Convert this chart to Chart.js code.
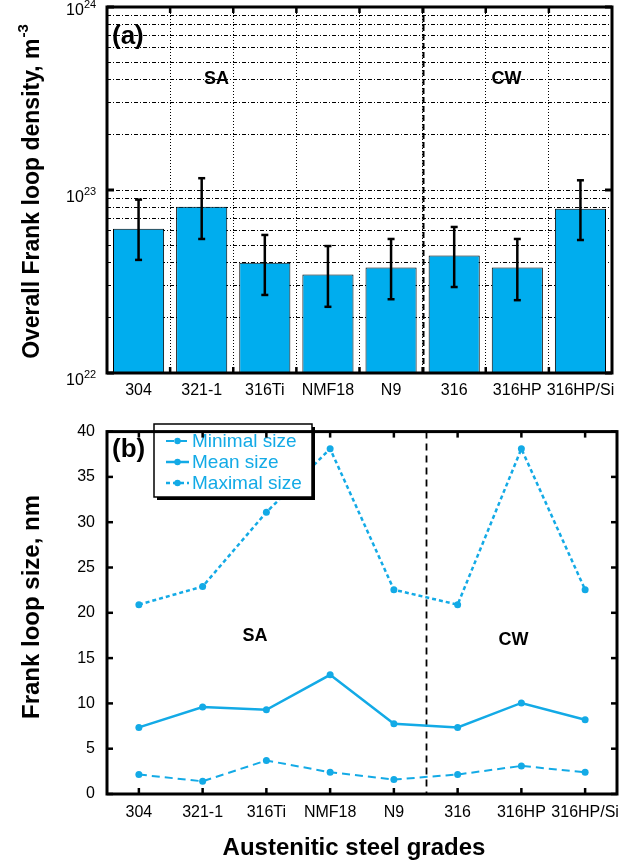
<!DOCTYPE html>
<html>
<head>
<meta charset="utf-8">
<script src="https://cdn.jsdelivr.net/npm/chart.js@4.4.1/dist/chart.umd.min.js"></script>
<style>
  html, body { margin: 0; padding: 0; background: #fff; }
  #wrap { position: relative; width: 630px; height: 860px; }
  canvas { position: absolute; left: 0; }
  #densityChart { top: 0; }
  #sizeChart { top: 410px; }
</style>
</head>
<body>
<div id="wrap">
  <canvas id="densityChart" width="630" height="410"></canvas>
  <canvas id="sizeChart" width="630" height="450"></canvas>
</div>
<script>
// Steel grades (SA: solution annealed, CW: cold worked)
const grades = ['304', '321-1', '316Ti', 'NMF18', 'N9', '316', '316HP', '316HP/Si'];

// (a) Frank loop number density, m^-3, with error range
const densityValues = [6.15e22, 8.1e22, 4.0e22, 3.45e22, 3.77e22, 4.38e22, 3.77e22, 7.9e22];
const densityLow    = [4.15e22, 5.4e22, 2.67e22, 2.3e22, 2.53e22, 2.95e22, 2.5e22, 5.33e22];
const densityHigh   = [8.86e22, 1.16e23, 5.68e22, 4.94e22, 5.4e22, 6.28e22, 5.4e22, 1.13e23];

// log axis: gridline values and labelled decades
const densityGridValues = [1e22, 2e22, 3e22, 4e22, 5e22, 6e22, 7e22, 8e22, 9e22,
                           1e23, 2e23, 3e23, 4e23, 5e23, 6e23, 7e23, 8e23, 9e23, 1e24];
const densityDecades = [1e22, 1e23, 1e24];
const densityExponents = ['22', '23', '24'];

// (b) Frank loop sizes, nm
const minimalSize = [2.15, 1.4, 3.7, 2.4, 1.6, 2.15, 3.1, 2.4];
const meanSize    = [7.35, 9.6, 9.3, 13.15, 7.75, 7.35, 10.05, 8.2];
const maximalSize = [20.9, 22.9, 31.1, 38.1, 22.55, 20.9, 38.1, 22.55];
const sizeTicks = [0, 5, 10, 15, 20, 25, 30, 35, 40];

// index after which the CW group starts
const lastSAIndex = 4;

const FONT = '"Liberation Sans", Arial, Helvetica, sans-serif';
const BAR_BLUE = '#00ADEE';
const LINE_BLUE = '#13AAE6';

Chart.defaults.font.family = FONT;
Chart.defaults.color = '#000';
Chart.defaults.animation = false;

function boundaryX(xs, i) {
  return (xs.getPixelForValue(i) + xs.getPixelForValue(i + 1)) / 2;
}

function drawTick(ctx, x1, y1, x2, y2, w) {
  ctx.lineWidth = w;
  ctx.beginPath();
  ctx.moveTo(x1, y1);
  ctx.lineTo(x2, y2);
  ctx.stroke();
}

// ---------- (a) density bar chart ----------
const densityDecor = {
  id: 'densityDecor',
  afterDatasetsDraw(chart) {
    const ctx = chart.ctx;
    const xs = chart.scales.x, ys = chart.scales.y;
    const meta = chart.getDatasetMeta(0);
    ctx.save();
    // group divider
    ctx.strokeStyle = '#000';
    ctx.setLineDash([6, 3]);
    const dx = Math.round(boundaryX(xs, lastSAIndex)) + 0.5;
    drawTick(ctx, dx, chart.chartArea.top, dx, chart.chartArea.bottom, 2);
    ctx.setLineDash([]);
    // error bars
    ctx.lineCap = 'butt';
    meta.data.forEach((bar, i) => {
      const x = bar.x;
      const yHi = ys.getPixelForValue(densityHigh[i]);
      const yLo = ys.getPixelForValue(densityLow[i]);
      drawTick(ctx, x, yHi, x, yLo, 2.5);
      drawTick(ctx, x - 3.5, yHi, x + 3.5, yHi, 2.5);
      drawTick(ctx, x - 3.5, yLo, x + 3.5, yLo, 2.5);
    });
    ctx.restore();
  },
  afterDraw(chart) {
    const ctx = chart.ctx;
    const a = chart.chartArea;
    const xs = chart.scales.x, ys = chart.scales.y;
    ctx.save();
    ctx.strokeStyle = '#000';
    ctx.fillStyle = '#000';
    // inward ticks at category boundaries
    for (let i = 0; i < grades.length - 1; i++) {
      const x = boundaryX(xs, i);
      drawTick(ctx, x, a.bottom, x, a.bottom - 6, 2.5);
      drawTick(ctx, x, a.top, x, a.top + 6, 2.5);
    }
    // inward ticks at decades
    densityDecades.forEach(v => {
      const y = ys.getPixelForValue(v);
      drawTick(ctx, a.left, y, a.left + 7, y, 3);
      drawTick(ctx, a.right, y, a.right - 7, y, 3);
    });
    // frame
    ctx.lineWidth = 3;
    ctx.strokeRect(a.left, a.top, a.right - a.left, a.bottom - a.top);
    // decade labels 10^n
    densityDecades.forEach((v, i) => {
      const y = ys.getPixelForValue(v);
      const base = i === densityDecades.length - 1 ? y + 8 : y + 12;
      ctx.textAlign = 'left';
      ctx.textBaseline = 'alphabetic';
      ctx.font = '16px ' + FONT;
      ctx.fillText('10', 66, base);
      ctx.font = '11px ' + FONT;
      ctx.fillText(densityExponents[i], 84, base - 7);
    });
    // panel label and group names
    ctx.font = 'bold 26px ' + FONT;
    ctx.textBaseline = 'middle';
    ctx.fillText('(a)', 112, 37);
    ctx.font = 'bold 18px ' + FONT;
    ctx.textAlign = 'center';
    ctx.fillText('SA', 216.5, 79);
    ctx.fillText('CW', 506.5, 79);
    // axis title
    ctx.translate(39, 192);
    ctx.rotate(-Math.PI / 2);
    const t1 = 'Overall Frank loop density, m';
    ctx.font = 'bold 23px ' + FONT;
    const w1 = ctx.measureText(t1).width;
    ctx.font = 'bold 15px ' + FONT;
    const w2 = ctx.measureText('-3').width;
    const start = -(w1 + w2) / 2;
    ctx.textAlign = 'left';
    ctx.textBaseline = 'alphabetic';
    ctx.font = 'bold 23px ' + FONT;
    ctx.fillText(t1, start, 0);
    ctx.font = 'bold 15px ' + FONT;
    ctx.fillText('-3', start + w1 + 1, -11);
    ctx.restore();
  }
};

new Chart(document.getElementById('densityChart'), {
  type: 'bar',
  data: {
    labels: grades,
    datasets: [{
      label: 'Frank loop density',
      data: densityValues,
      backgroundColor: BAR_BLUE,
      borderColor: '#000',
      borderWidth: 1,
      borderSkipped: false,
      barPercentage: 0.81,
      categoryPercentage: 1
    }]
  },
  options: {
    responsive: false,
    layout: { padding: { top: 7, right: 18, left: 0, bottom: 0 } },
    plugins: { legend: { display: false }, tooltip: { enabled: false } },
    scales: {
      x: {
        offset: true,
        grid: { offset: true, color: '#000', lineWidth: 1, drawTicks: false },
        border: { display: false, dash: [1, 2] },
        ticks: { font: { size: 16 }, color: '#000', padding: 8, autoSkip: false, maxRotation: 0 },
        afterFit(s) { s.height = 37; }
      },
      y: {
        type: 'logarithmic',
        min: 1e22,
        max: 1e24,
        afterBuildTicks(s) { s.ticks = densityGridValues.map(v => ({ value: v })); },
        grid: { color: '#000', lineWidth: 1, drawTicks: false },
        border: { display: false, dash: [4, 2, 1, 2] },
        ticks: { display: false, autoSkip: false },
        afterFit(s) { s.width = 107; }
      }
    }
  },
  plugins: [densityDecor]
});

// ---------- (b) loop size line chart ----------
const sizeDecor = {
  id: 'sizeDecor',
  beforeDatasetsDraw(chart) {
    const ctx = chart.ctx;
    const a = chart.chartArea;
    const xs = chart.scales.x;
    ctx.save();
    ctx.strokeStyle = '#000';
    ctx.setLineDash([7, 5]);
    const dx = Math.round(boundaryX(xs, lastSAIndex)) + 0.5;
    drawTick(ctx, dx, a.top, dx, a.bottom, 1.8);
    ctx.restore();
  },
  afterDraw(chart) {
    const ctx = chart.ctx;
    const a = chart.chartArea;
    const xs = chart.scales.x, ys = chart.scales.y;
    ctx.save();
    // legend box with shadow
    const lx = 154, ly = 14, lw = 158, lh = 73;
    ctx.fillStyle = '#000';
    ctx.fillRect(lx + 3, ly + 3, lw, lh);
    ctx.fillStyle = '#fff';
    ctx.fillRect(lx, ly, lw, lh);
    ctx.strokeStyle = '#000';
    ctx.lineWidth = 1.5;
    ctx.strokeRect(lx, ly, lw, lh);
    chart.data.datasets.forEach((ds, i) => {
      const cy = ly + 17 + i * 21;
      ctx.strokeStyle = ds.borderColor;
      ctx.setLineDash(ds.borderDash || []);
      drawTick(ctx, lx + 12, cy, lx + 35, cy, ds.borderWidth);
      ctx.setLineDash([]);
      ctx.fillStyle = ds.pointBackgroundColor;
      ctx.beginPath();
      ctx.arc(lx + 23.5, cy, 3.2, 0, Math.PI * 2);
      ctx.fill();
      ctx.font = '19px ' + FONT;
      ctx.textAlign = 'left';
      ctx.textBaseline = 'middle';
      ctx.fillText(ds.label, lx + 38, cy + 1);
    });
    // inward ticks
    ctx.strokeStyle = '#000';
    grades.forEach((g, i) => {
      const x = xs.getPixelForValue(i);
      drawTick(ctx, x, a.bottom, x, a.bottom - 6, 2.5);
      drawTick(ctx, x, a.top, x, a.top + 6, 2.5);
    });
    sizeTicks.forEach(v => {
      const y = ys.getPixelForValue(v);
      drawTick(ctx, a.left, y, a.left + 6, y, 2.5);
      drawTick(ctx, a.right, y, a.right - 6, y, 2.5);
    });
    // frame
    ctx.lineWidth = 3;
    ctx.strokeRect(a.left, a.top, a.right - a.left, a.bottom - a.top);
    // labels
    ctx.fillStyle = '#000';
    ctx.font = 'bold 26px ' + FONT;
    ctx.textAlign = 'left';
    ctx.textBaseline = 'middle';
    ctx.fillText('(b)', 112, 40);
    ctx.font = 'bold 18px ' + FONT;
    ctx.textAlign = 'center';
    ctx.fillText('SA', 255, 226);
    ctx.fillText('CW', 513.5, 230);
    // axis titles
    ctx.font = 'bold 24px ' + FONT;
    ctx.textBaseline = 'alphabetic';
    ctx.fillText('Austenitic steel grades', 354, 445);
    ctx.translate(39, 197);
    ctx.rotate(-Math.PI / 2);
    ctx.fillText('Frank loop size, nm', 0, 0);
    ctx.restore();
  }
};

function sizeDataset(label, data, dash, width) {
  return {
    label, data,
    borderColor: LINE_BLUE,
    backgroundColor: LINE_BLUE,
    pointBackgroundColor: LINE_BLUE,
    pointBorderWidth: 0,
    pointRadius: 3.5,
    borderWidth: width,
    borderDash: dash,
    tension: 0,
    fill: false
  };
}

new Chart(document.getElementById('sizeChart'), {
  type: 'line',
  data: {
    labels: grades,
    datasets: [
      sizeDataset('Minimal size', minimalSize, [8, 5], 2),
      sizeDataset('Mean size', meanSize, [], 2.5),
      sizeDataset('Maximal size', maximalSize, [4, 3], 2.5)
    ]
  },
  options: {
    responsive: false,
    layout: { padding: { top: 13, right: 13, left: 0, bottom: 0 } },
    plugins: { legend: { display: false }, tooltip: { enabled: false } },
    scales: {
      x: {
        offset: true,
        grid: { display: false, drawTicks: false },
        border: { display: false },
        ticks: { font: { size: 16 }, color: '#000', padding: 9, autoSkip: false, maxRotation: 0 },
        afterFit(s) { s.height = 66; }
      },
      y: {
        min: 0,
        max: 40,
        afterBuildTicks(s) { s.ticks = sizeTicks.map(v => ({ value: v })); },
        grid: { display: false, drawTicks: false },
        border: { display: false },
        ticks: { font: { size: 16 }, color: '#000', padding: 12 },
        afterFit(s) { s.width = 107; }
      }
    }
  },
  plugins: [sizeDecor]
});
</script>
</body>
</html>
